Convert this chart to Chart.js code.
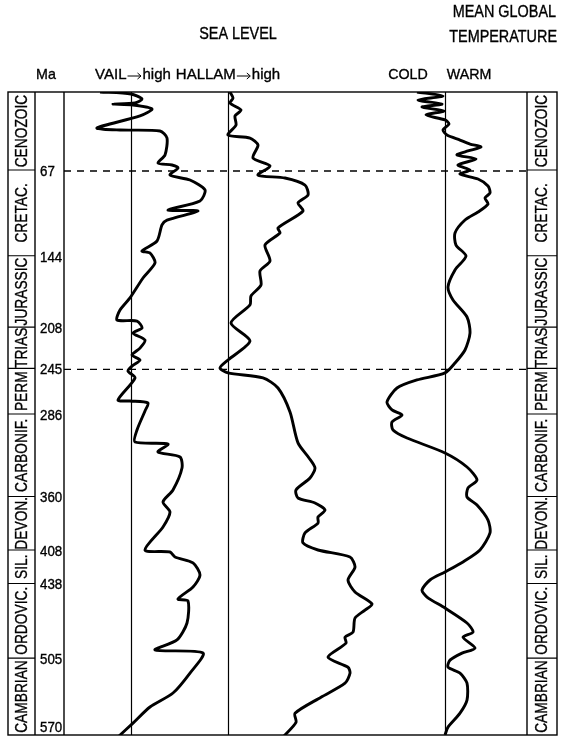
<!DOCTYPE html>
<html>
<head>
<meta charset="utf-8">
<script src="https://cdn.jsdelivr.net/npm/chart.js@4.4.1/dist/chart.umd.min.js"></script>
<style>
  html, body { margin: 0; padding: 0; background: #fff; }
  #wrap { width: 565px; height: 737px; position: relative; }
</style>
</head>
<body>
<div id="wrap"><canvas id="chart"></canvas></div>
<script>
// ages in Ma, levels in relative units (0 = reference line)
const vailMa = [-3, -1.2, 3.3, 6.9, 7.8, 8.7, 12.3, 18.5, 29.3, 31.1, 32.0, 38.3, 53.5, 60.7, 62.5, 65.2, 71.5, 76.0, 84.9, 94.8, 102.9, 103.8, 111.9, 116.3, 130.7, 139.7, 141.5, 150.4, 163.9, 181.8, 192.6, 201.6, 202.5, 208.8, 213.3, 219.6, 226.8, 233.1, 237.6, 243.0, 247.4, 253.6, 273.4, 274.3, 276.1, 283.2, 300.3, 311.1, 312.9, 320.0, 324.5, 334.4, 354.1, 364.9, 373.9, 387.3, 408.0, 409.8, 414.3, 419.6, 430.4, 441.2, 452.0, 453.8, 473.5, 488.7, 497.7, 500.4, 518.4, 536.3, 548.9, 563.3, 575.8];
const vailLevel = [-3.1, 0.0, 1.1, 0.4, -1.8, 0.2, 2.1, 0.9, -3.4, -1.1, 2.9, 3.6, 3.4, 2.7, 4.1, 4.7, 3.9, 5.9, 7.4, 6.9, 3.7, 6.7, 3.6, 3.1, 2.6, 1.1, 1.9, 2.4, 1.2, -0.1, -1.1, -1.4, 0.6, 1.1, 0.2, 1.4, 0.9, 0.1, 0.9, 0.1, -0.3, 0.4, -1.3, -0.1, 1.7, 1.4, 0.6, 0.4, 3.7, 2.7, 4.9, 5.1, 4.2, 3.2, 3.9, 3.2, 1.4, 3.9, 4.4, 6.2, 6.9, 6.2, 4.7, 5.7, 5.6, 4.6, 2.4, 7.2, 5.9, 4.2, 1.9, 0.2, -1.3];

const hallamMa = [-3, 2.4, 6.9, 13.2, 18.5, 26.6, 35.6, 38.3, 44.6, 56.2, 63.4, 71.5, 74.2, 80.5, 89.4, 96.6, 103.8, 119.0, 123.5, 134.3, 148.6, 157.6, 170.2, 180.0, 188.1, 204.3, 220.4, 237.5, 244.6, 249.1, 253.6, 262.6, 284.1, 311.9, 325.4, 334.4, 343.4, 354.1, 361.3, 365.8, 372.1, 378.4, 383.8, 392.7, 401.7, 408.0, 414.3, 423.3, 435.0, 445.7, 456.5, 461.9, 469.1, 481.7, 486.2, 491.6, 504.2, 513.2, 518.6, 527.5, 540.1, 554.5, 562.6, 575.8];
const hallamLevel = [0.2, 0.5, 0.2, 1.3, 0.7, 0.8, 0.0, 2.2, 3.0, 2.5, 4.2, 3.0, 5.7, 7.7, 8.0, 7.0, 7.5, 5.0, 5.2, 3.7, 4.2, 3.2, 3.3, 2.3, 2.2, 0.3, 2.2, 0.0, -0.8, 0.0, 3.5, 5.0, 6.2, 7.0, 8.1, 8.7, 8.2, 6.8, 7.0, 8.7, 9.7, 9.0, 9.0, 7.7, 7.5, 9.0, 12.2, 12.7, 12.0, 12.7, 14.4, 13.7, 12.7, 12.5, 11.7, 11.8, 10.0, 12.0, 12.2, 11.7, 9.3, 6.7, 6.8, 5.5];

const tempMa = [-3, 0.6, 4.2, 7.8, 10.5, 14.0, 17.6, 22.1, 25.7, 31.1, 35.6, 40.1, 43.7, 46.4, 49.9, 53.5, 57.1, 62.5, 67.0, 70.6, 75.1, 81.3, 87.6, 92.1, 97.5, 104.7, 111.9, 123.5, 134.3, 144.2, 156.7, 172.0, 183.6, 198.9, 213.3, 228.5, 240.2, 249.1, 255.4, 262.6, 275.2, 282.3, 286.8, 293.1, 300.3, 307.5, 320.9, 333.5, 345.2, 352.3, 360.4, 367.6, 381.1, 392.7, 408.0, 418.7, 427.7, 434.9, 443.9, 450.2, 460.1, 473.5, 481.6, 486.2, 496.0, 500.5, 506.8, 513.1, 518.5, 527.5, 542.7, 554.4, 566.9, 574];
const tempLevel = [-2.8, -0.2, -2.7, -0.3, -2.3, -0.1, -1.9, 0.0, 0.4, -0.2, 0.2, 1.5, 2.5, 3.6, 2.3, 1.2, 3.1, 1.3, 2.5, 1.5, 3.3, 4.3, 4.5, 4.0, 4.3, 3.3, 2.0, 1.0, 1.1, 2.1, 1.0, 0.3, 0.8, 2.2, 2.5, 2.0, 1.0, 0.0, -2.8, -4.8, -5.8, -5.3, -4.3, -5.3, -5.2, -3.8, 0.0, 2.2, 3.2, 2.3, 2.2, 3.2, 4.3, 4.5, 3.5, 1.8, 0.0, -1.5, -2.3, -1.8, 0.0, 2.2, 2.8, 1.8, 3.0, 1.7, 0.5, 0.3, 1.5, 2.2, 2.2, 1.5, 0.3, 0.0];

const periodNames = ['CENOZOIC', 'CRETAC.', 'JURASSIC', 'TRIAS', 'PERM', 'CARBONIF.', 'DEVON.', 'SIL.', 'ORDOVIC.', 'CAMBRIAN'];
const periodBounds = [0, 67, 144, 208, 245, 286, 360, 408, 438, 505, 570];
const maTicks = [67, 144, 208, 245, 286, 360, 408, 438, 505, 570];
const dashedAges = [67, 245];

// page columns (px)
const COL = { left: 8, names: 35, ma: 64, plotRight: 527, right: 557 };
const FONT = '"Liberation Sans", Arial, Helvetica, sans-serif';

const toPoints = (ma, lvl) => ma.map((m, i) => ({ x: lvl[i], y: m }));

// text with a hair stroke so it reads as dark as the printed original
function text(ctx, str, x, y, size, squeeze, align) {
  ctx.save();
  ctx.translate(x, y);
  ctx.scale(squeeze, 1);
  ctx.font = size + 'px ' + FONT;
  ctx.textAlign = align || 'center';
  ctx.textBaseline = 'middle';
  ctx.fillStyle = '#000';
  ctx.strokeStyle = '#000';
  ctx.lineWidth = 0.35;
  ctx.fillText(str, 0, 0);
  ctx.strokeText(str, 0, 0);
  ctx.restore();
}

// "NAME→high", the arrow drawn as a thin line with a small head
function arrowLabel(ctx, name, cx, y, size) {
  const arrowLen = 14, gap = 1;
  ctx.save();
  ctx.font = size + 'px ' + FONT;
  const w1 = ctx.measureText(name).width;
  const w2 = ctx.measureText('high').width;
  let x = cx - (w1 + w2 + arrowLen + 2 * gap) / 2;
  ctx.textAlign = 'left';
  ctx.textBaseline = 'middle';
  ctx.fillStyle = '#000';
  ctx.strokeStyle = '#000';
  ctx.lineWidth = 0.35;
  ctx.fillText(name, x, y);
  ctx.strokeText(name, x, y);
  x += w1 + gap;
  const ay = y + 1;
  ctx.lineWidth = 1;
  ctx.beginPath();
  ctx.moveTo(x, ay);
  ctx.lineTo(x + arrowLen - 1, ay);
  ctx.moveTo(x + arrowLen - 4, ay - 3);
  ctx.lineTo(x + arrowLen - 0.5, ay);
  ctx.lineTo(x + arrowLen - 4, ay + 3);
  ctx.stroke();
  x += arrowLen + gap;
  ctx.lineWidth = 0.35;
  ctx.fillText('high', x, y);
  ctx.strokeText('high', x, y);
  ctx.restore();
}

const framePlugin = {
  id: 'frame',
  beforeDatasetsDraw(chart) {
    const { ctx, chartArea: a, scales } = chart;
    ctx.save();
    ctx.strokeStyle = '#000';
    ctx.lineWidth = 1.2;
    ['xVail', 'xHallam', 'xTemp'].forEach(id => {
      const px = Math.round(scales[id].getPixelForValue(0)) + 0.5;
      ctx.beginPath();
      ctx.moveTo(px, a.top);
      ctx.lineTo(px, a.bottom);
      ctx.stroke();
    });
    ctx.setLineDash([7, 6]);
    ctx.lineWidth = 1.3;
    dashedAges.forEach(age => {
      const py = scales.y.getPixelForValue(age) + 1;
      ctx.beginPath();
      ctx.moveTo(COL.ma, py);
      ctx.lineTo(COL.plotRight, py);
      ctx.stroke();
    });
    ctx.restore();
  },
  afterDraw(chart) {
    const { ctx, chartArea: a, scales } = chart;
    const y = scales.y;
    ctx.save();
    ctx.strokeStyle = '#000';
    ctx.lineWidth = 1.4;
    ctx.strokeRect(COL.left, a.top, COL.right - COL.left, a.bottom - a.top);
    [COL.names, COL.ma, COL.plotRight].forEach(px => {
      ctx.beginPath();
      ctx.moveTo(px, a.top);
      ctx.lineTo(px, a.bottom);
      ctx.stroke();
    });

    // period boxes, both sides
    ctx.lineWidth = 1.1;
    periodBounds.slice(1, -1).forEach(b => {
      const py = y.getPixelForValue(b);
      ctx.beginPath();
      ctx.moveTo(COL.left, py); ctx.lineTo(COL.names, py);
      ctx.moveTo(COL.plotRight, py); ctx.lineTo(COL.right, py);
      ctx.stroke();
    });
    periodNames.forEach((name, i) => {
      const t = i === 0 ? a.top : y.getPixelForValue(periodBounds[i]);
      const b = i === periodNames.length - 1 ? a.bottom : y.getPixelForValue(periodBounds[i + 1]);
      const cy = (t + b) / 2;
      [(COL.left + COL.names) / 2 + 1, (COL.plotRight + COL.right) / 2 + 1].forEach(cx => {
        ctx.save();
        ctx.translate(cx, cy);
        ctx.rotate(-Math.PI / 2);
        text(ctx, name, 0, 0, 16, 0.86);
        ctx.restore();
      });
    });

    // Ma ticks
    maTicks.forEach(t => {
      const py = Math.min(y.getPixelForValue(t) + 2, a.bottom - 7);
      text(ctx, String(t), 40, py, 14, 0.95, 'left');
    });

    // headings
    text(ctx, 'SEA LEVEL', 238, 35, 16, 0.9);
    text(ctx, 'MEAN GLOBAL', 556, 13, 16, 0.9, 'right');
    text(ctx, 'TEMPERATURE', 557, 38, 16, 0.9, 'right');
    text(ctx, 'Ma', 46, 75, 15, 0.95);
    arrowLabel(ctx, 'VAIL', 133, 75, 15);
    arrowLabel(ctx, 'HALLAM', 228, 75, 15);
    text(ctx, 'COLD', 408, 75, 15, 0.95);
    text(ctx, 'WARM', 469, 75, 15, 0.95);
    ctx.restore();
  }
};

const lineStyle = { showLine: true, pointRadius: 0, borderColor: '#000', borderWidth: 2.9, tension: 0.25, fill: false };

new Chart(document.getElementById('chart'), {
  type: 'scatter',
  data: {
    datasets: [
      { label: 'Vail', data: toPoints(vailMa, vailLevel), xAxisID: 'xVail', yAxisID: 'y', ...lineStyle },
      { label: 'Hallam', data: toPoints(hallamMa, hallamLevel), xAxisID: 'xHallam', yAxisID: 'y', ...lineStyle },
      { label: 'Temperature', data: toPoints(tempMa, tempLevel), xAxisID: 'xTemp', yAxisID: 'y', ...lineStyle }
    ]
  },
  options: {
    responsive: true,
    maintainAspectRatio: false,
    animation: false,
    layout: { padding: { left: 8, right: 8, top: 92, bottom: 2 } },
    plugins: { legend: { display: false }, tooltip: { enabled: false } },
    scales: {
      x: { display: false },
      xVail: { type: 'linear', display: false, min: -12.3, max: 42.6 },
      xHallam: { type: 'linear', display: false, min: -22.0, max: 32.9 },
      xTemp: { type: 'linear', display: false, min: -43.7, max: 11.2 },
      y: { type: 'linear', display: false, reverse: true, min: -3, max: 574 }
    }
  },
  plugins: [framePlugin]
});
</script>
</body>
</html>
